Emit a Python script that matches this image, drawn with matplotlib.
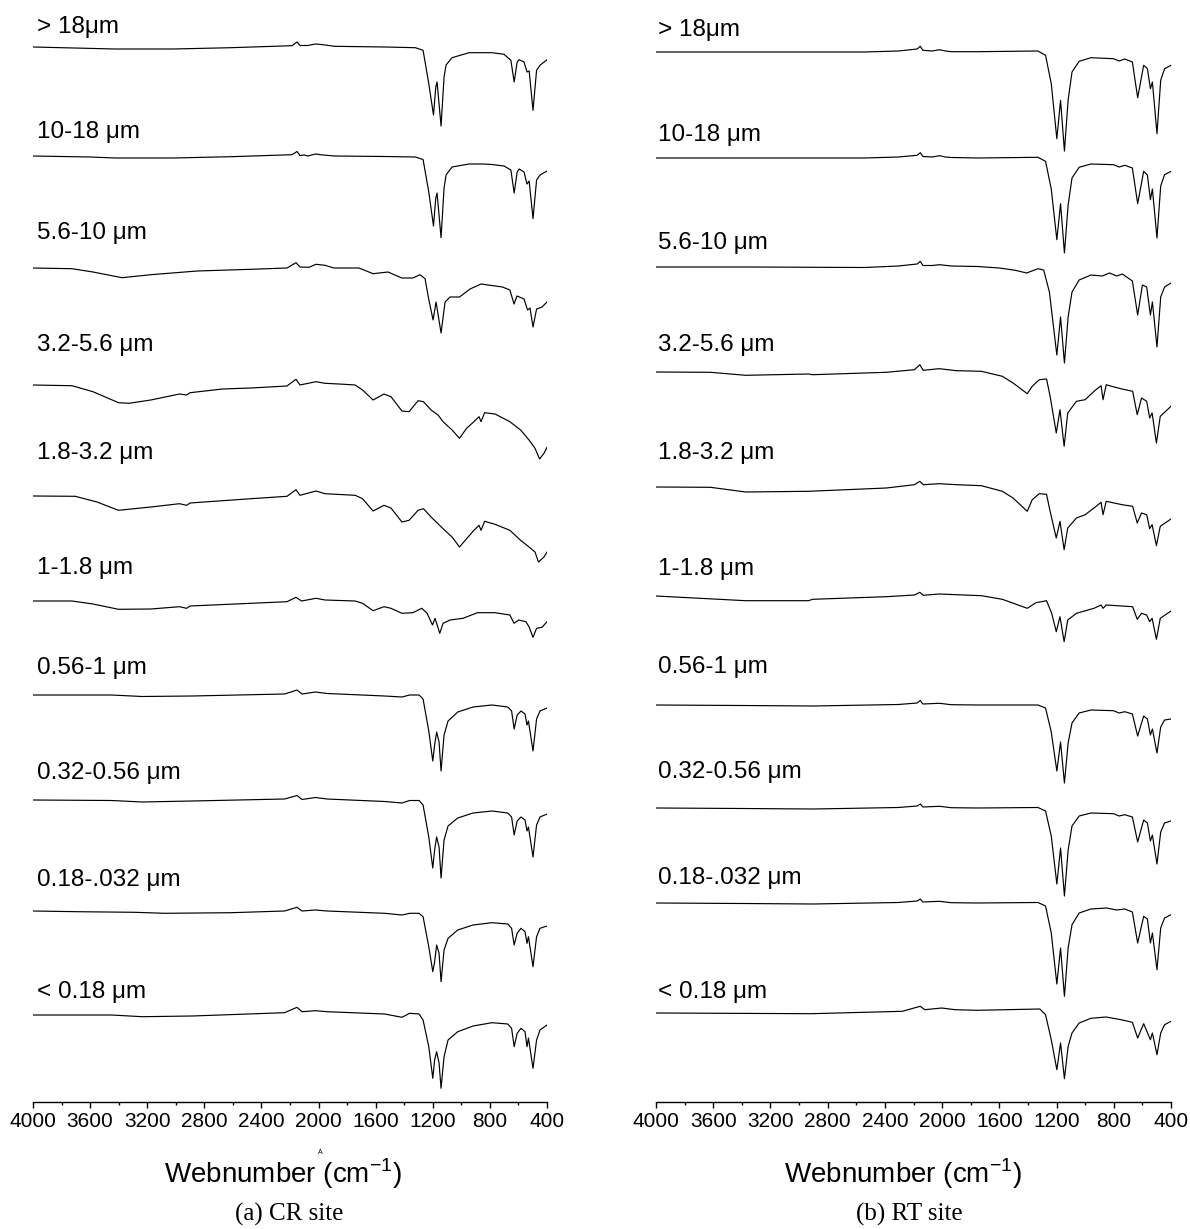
import matplotlib
matplotlib.use("Agg")
import matplotlib.pyplot as plt
from matplotlib.ticker import MultipleLocator

# size fractions, same for both sites
labels = ["> 18\u03bcm", "10-18 \u03bcm", "5.6-10 \u03bcm", "3.2-5.6 \u03bcm", "1.8-3.2 \u03bcm",
          "1-1.8 \u03bcm", "0.56-1 \u03bcm", "0.32-0.56 \u03bcm", "0.18-.032 \u03bcm", "< 0.18 \u03bcm"]

# ---- CR site spectra: (wavenumber cm-1, relative signal) ----
cr_gt18 = [(4000, 0), (3424, -2), (3019, -2), (2613, -0.7), (2186, 1.3), (2151, 5), (2130, 1.5),
           (2076, 1.5), (2022, 3), (1969, 2.3), (1888, 0.7), (1537, 0), (1322, -0.7), (1268, -3.3),
           (1228, -36.7), (1195, -68), (1179, -40), (1170, -35), (1142, -79), (1121, -30), (1107, -18),
           (1065, -10.7), (946, -5.7), (785, -5.7), (701, -7.3), (653, -13.3), (630, -35), (609, -15),
           (595, -12.7), (561, -15), (540, -25), (525, -24), (498, -63.3), (473, -23.3), (449, -18.3),
           (400, -12.7)]
cr_10_18 = [(4000, 0), (3600, -1), (3424, -2), (3019, -2), (2613, -0.7), (2186, 1.3), (2151, 4.5),
            (2130, 0.5), (2100, 1), (2076, 0), (2022, 2), (1969, 1), (1888, 0), (1537, -0.5), (1322, -1),
            (1268, -3.5), (1228, -36), (1195, -70), (1179, -42), (1170, -37), (1142, -81.7), (1121, -32),
            (1107, -19), (1065, -11), (946, -8), (850, -8), (785, -8.5), (701, -10), (653, -14), (630, -37),
            (609, -16), (595, -13), (561, -16), (540, -28), (525, -25), (498, -62.7), (473, -24), (449, -19),
            (400, -15)]
cr_56_10 = [(4000, 0), (3728, -0.7), (3580, -4), (3376, -9.7), (3175, -6.7), (2850, -3), (2473, -1.3),
            (2221, 0), (2158, 5.3), (2130, 1), (2067, 0.7), (2018, 3.7), (1955, 2.7), (1892, 0), (1717, 0),
            (1618, -5.7), (1514, -4), (1416, -10), (1339, -10), (1290, -6.7), (1254, -10.7), (1230, -30),
            (1198, -52), (1177, -34), (1142, -65), (1114, -34), (1079, -29), (1013, -29), (939, -21),
            (862, -16), (813, -17), (712, -19), (660, -22), (631, -36), (610, -28), (561, -31), (536, -42),
            (519, -40), (498, -59), (473, -41), (435, -39), (400, -34)]
cr_32_56 = [(4000, 0), (3728, -0.7), (3580, -6.7), (3401, -17.7), (3327, -18.3), (3175, -15),
            (2974, -9), (2924, -10), (2900, -7.7), (2673, -4), (2473, -3), (2221, -1), (2158, 5.7),
            (2130, 0), (2018, 3.3), (1955, 1.7), (1818, 0.7), (1744, 0), (1692, -5), (1618, -15),
            (1542, -9), (1493, -11.7), (1416, -26), (1366, -26.7), (1303, -15.7), (1265, -16.7),
            (1212, -25), (1163, -30), (1128, -36.7), (1065, -45), (1013, -53.3), (963, -43.3),
            (912, -36.7), (876, -31.7), (862, -36.7), (837, -27.7), (764, -29), (660, -36.7), (585, -45),
            (526, -55), (484, -63.3), (452, -74), (421, -68.3), (400, -62.3)]
cr_18_32 = [(4000, 0), (3704, -0.3), (3552, -6), (3401, -14.3), (3175, -11), (2974, -7.7), (2924, -9.3),
            (2900, -7), (2473, -2.7), (2221, -0.3), (2158, 6.3), (2130, 0.7), (2018, 5), (1955, 2.3),
            (1744, 0.7), (1692, -2.7), (1618, -15), (1542, -9.3), (1493, -12), (1416, -26), (1366, -24.3),
            (1303, -14.3), (1265, -12.7), (1212, -21), (1128, -32.7), (1065, -41), (1013, -51),
            (963, -42.7), (912, -34.3), (876, -29.3), (862, -34.3), (837, -25.3), (764, -28.3),
            (660, -34.3), (585, -44.3), (526, -51), (484, -56), (460, -66), (421, -61), (400, -56)]
cr_1_18 = [(4000, 0), (3728, 0), (3580, -3), (3401, -8.3), (3175, -8), (2974, -5.7), (2924, -7.3),
           (2900, -5), (2473, -2.3), (2221, -0.7), (2158, 3.7), (2119, 0), (2018, 2.7), (1955, 1),
           (1744, 0), (1692, -2.3), (1618, -9.7), (1542, -5.7), (1493, -7.3), (1416, -12.3), (1339, -11.7),
           (1277, -7.3), (1240, -12.3), (1202, -24), (1184, -17.3), (1151, -32.3), (1128, -22.3),
           (1079, -19), (988, -17.3), (887, -11.7), (764, -11.7), (660, -14), (631, -22.3), (598, -19),
           (548, -20.7), (526, -25.7), (498, -36.3), (473, -27.3), (435, -26.3), (400, -20.7)]
cr_056_1 = [(4000, 0), (3450, 0), (3236, -1.5), (2886, -1), (2238, 1), (2151, 5), (2116, 1), (2022, 3),
            (1941, 1.5), (1537, -1), (1416, -2), (1362, 0), (1296, 0), (1268, -4), (1228, -36),
            (1200, -66), (1187, -50), (1173, -37), (1156, -47), (1142, -76), (1121, -40), (1093, -26),
            (1025, -17), (918, -12), (785, -10), (675, -12), (648, -16), (630, -34), (609, -20),
            (582, -16), (554, -19), (540, -30), (530, -26), (498, -56), (473, -24), (449, -16), (400, -13)]
cr_032_056 = [(4000, 0), (3450, -0.5), (3236, -2), (2886, -1), (2238, 1), (2151, 4.5), (2116, 0.5),
              (2022, 2.5), (1941, 1), (1537, -1.5), (1416, -3), (1362, -0.5), (1296, -0.5), (1268, -5),
              (1228, -37), (1200, -68), (1187, -50), (1173, -37), (1156, -47), (1142, -78), (1121, -40),
              (1093, -26), (1025, -18), (918, -13), (785, -11), (675, -13), (648, -17), (630, -35),
              (609, -21), (582, -17), (554, -20), (540, -31), (530, -27), (498, -57), (473, -25),
              (449, -17), (400, -14)]
cr_018_032 = [(4000, 0), (3692, -0.7), (3288, -1.3), (3075, -2.3), (2613, -1.7), (2238, 0), (2151, 3.7),
              (2116, 0), (2022, 1), (1941, 0), (1537, -2.3), (1416, -4), (1362, -2.3), (1296, -2.3),
              (1268, -5.7), (1228, -35.7), (1200, -60.7), (1187, -50.7), (1173, -34), (1156, -42.3),
              (1142, -70.7), (1121, -39), (1093, -27.3), (1025, -19), (918, -14), (785, -11.7),
              (675, -13), (648, -17.3), (630, -34), (609, -22.3), (582, -17.3), (554, -20.7),
              (540, -32.3), (530, -25.7), (498, -55.7), (473, -25.7), (449, -17.3), (400, -15)]
cr_lt018 = [(4000, 0), (3450, 0), (3236, -1.7), (2886, -1), (2238, 2.3), (2151, 7.7), (2116, 3.3),
            (2022, 4.3), (1941, 3.3), (1537, 1), (1416, -2.3), (1362, 1.7), (1296, 1), (1268, -5),
            (1228, -31.7), (1200, -63.3), (1187, -45), (1173, -36.7), (1156, -48), (1142, -73.3),
            (1121, -41.7), (1093, -25), (1025, -16.7), (918, -11), (785, -7.7), (675, -9), (648, -13.3),
            (630, -31.7), (609, -18.3), (582, -13.3), (554, -16.7), (540, -31.7), (530, -23),
            (498, -53.3), (473, -25), (449, -15), (400, -10)]

# ---- RT site spectra ----
rt_gt18 = [(4000, 0), (3337, 0), (2543, 0), (2306, 1), (2174, 3), (2153, 5.7), (2134, 1.7), (2069, 1),
           (2018, 2.3), (1977, 1), (1937, 0.3), (1753, 0.3), (1330, 1), (1277, -3.3), (1237, -31.7),
           (1198, -86.7), (1172, -48.3), (1145, -99), (1119, -48), (1092, -20), (1042, -9.3), (960, -5.7),
           (802, -6.7), (763, -9), (723, -7), (670, -10), (633, -45.7), (591, -13.3), (565, -16.7),
           (544, -36.7), (530, -30), (498, -81.7), (472, -28.3), (445, -16.7), (400, -13.3)]
rt_10_18 = [(4000, 0), (3337, 0), (2543, 0), (2306, 1), (2174, 2.7), (2153, 5.3), (2134, 1.5), (2069, 1),
            (2018, 2.3), (1977, 1), (1937, 0.5), (1753, 0), (1330, 0.7), (1277, -3.3), (1237, -31),
            (1198, -81.7), (1172, -45.7), (1145, -95), (1119, -47), (1092, -20), (1042, -9.3), (960, -6),
            (802, -6.7), (763, -9), (723, -7.3), (670, -10), (633, -45.7), (591, -13.3), (565, -17),
            (544, -41.7), (530, -31), (498, -80), (472, -28), (445, -16.7), (400, -13.3)]
rt_56_10 = [(4000, 0), (3337, 0), (2543, -0.5), (2306, 1), (2174, 3), (2153, 5.7), (2134, 1.5),
            (2069, 1.5), (2018, 2.3), (1937, 1), (1753, 0.5), (1600, -1), (1488, -3.3), (1409, -6),
            (1330, -1.7), (1290, -3), (1250, -25), (1198, -88), (1172, -50), (1145, -96), (1119, -50),
            (1092, -25), (1042, -13), (960, -8), (880, -9), (830, -6), (780, -9), (740, -7), (700, -11),
            (670, -14), (633, -48), (600, -18), (570, -20), (544, -48), (530, -35), (498, -80),
            (472, -30), (445, -20), (400, -16)]
rt_32_56 = [(4000, 0), (3620, -0.3), (3373, -3.3), (2933, -2), (2906, -2.7), (2390, -0.3), (2193, 2.3),
            (2156, 7.3), (2132, 1.7), (2021, 3.3), (1898, 1.3), (1725, 0.7), (1579, -4.3), (1504, -11),
            (1405, -21.7), (1370, -14.3), (1321, -7.7), (1270, -7), (1245, -24.3), (1202, -61),
            (1176, -37.7), (1147, -74.3), (1122, -41), (1061, -29.3), (1000, -27.7), (938, -19.3),
            (889, -13.7), (875, -27.7), (853, -12.7), (815, -14.3), (742, -17), (668, -19.3), (636, -42.7),
            (606, -26), (570, -29.3), (549, -46), (532, -41), (502, -71), (475, -44.3), (400, -34.3)]
rt_18_32 = [(4000, 0), (3620, -0.3), (3373, -5), (2933, -4.3), (2390, -1), (2193, 2.3), (2156, 5.7),
            (2132, 2.3), (2021, 3.3), (1898, 2.3), (1725, 1.3), (1579, -4.3), (1504, -11), (1405, -24.3),
            (1370, -12.7), (1321, -6.7), (1270, -7.3), (1245, -24.3), (1202, -51), (1176, -34.3),
            (1147, -62.7), (1122, -41), (1061, -31), (1000, -27.7), (938, -21), (889, -15.3),
            (875, -27.7), (853, -14.3), (742, -17.7), (668, -19.3), (636, -36), (606, -26), (570, -27.7),
            (549, -41.7), (532, -37.7), (502, -58.7), (475, -39.3), (400, -32)]
rt_1_18 = [(4000, 0), (3373, -4.7), (2933, -4.7), (2906, -3.3), (2390, -0.7), (2193, 1), (2156, 3.7),
           (2132, 0.7), (2021, 2), (1725, 0.3), (1579, -3.3), (1405, -12.3), (1344, -6.7), (1270, -4.7),
           (1234, -17.3), (1202, -35.7), (1176, -20.7), (1147, -45.7), (1122, -24), (1061, -17.3),
           (938, -12.3), (889, -9), (875, -12.3), (853, -9), (668, -10.7), (636, -23.3), (606, -17.3),
           (570, -19), (549, -25.7), (532, -22.3), (502, -43.3), (475, -22.3), (400, -15)]
rt_056_1 = [(4000, 0), (3400, -0.5), (2900, -1), (2306, 0.5), (2174, 2), (2153, 4.5), (2134, 1),
            (2018, 1.7), (1937, 0.3), (1753, 0), (1330, 0), (1277, -3), (1237, -27), (1198, -66),
            (1172, -37), (1145, -78), (1119, -38), (1092, -18), (1042, -8), (960, -5), (802, -5.7),
            (763, -8), (723, -6.7), (670, -9), (633, -31), (591, -11), (565, -14), (544, -30),
            (530, -24), (498, -48), (472, -22), (445, -15), (400, -14)]
rt_032_056 = [(4000, 0), (3400, -0.5), (2900, -1), (2306, 0.5), (2174, 2), (2153, 4), (2134, 1),
              (2018, 1.7), (1937, 0.3), (1753, 0), (1330, 0.5), (1277, -3), (1237, -28), (1198, -76),
              (1172, -40), (1145, -88), (1119, -42), (1092, -18), (1042, -8), (960, -5), (802, -5.7),
              (763, -8), (723, -6.7), (670, -9), (633, -34), (591, -12), (565, -15), (544, -33),
              (530, -27), (498, -56), (472, -24), (445, -15), (400, -13)]
rt_018_032 = [(4000, 0), (3400, -0.5), (2900, -1), (2306, 0.5), (2174, 2), (2153, 4), (2134, 1),
              (2018, 1.7), (1937, 0.3), (1753, 0), (1330, 0.5), (1277, -3), (1237, -30), (1198, -81),
              (1172, -45), (1145, -93.3), (1119, -45), (1092, -21.7), (1042, -10), (960, -6), (850, -5),
              (780, -7), (723, -6), (670, -9), (633, -40), (591, -13.3), (565, -16), (544, -40),
              (530, -30), (498, -66.7), (472, -25), (445, -15), (400, -11.7)]
rt_lt018 = [(4000, 0), (2913, -0.7), (2279, 1.7), (2153, 6.7), (2121, 3.3), (2002, 5), (1910, 3.3),
            (1753, 2.7), (1317, 4), (1277, -1.7), (1237, -26.7), (1198, -56.7), (1172, -30),
            (1145, -65.7), (1119, -33.3), (1092, -20), (1042, -10), (960, -5.3), (855, -4), (749, -6.7),
            (670, -9.3), (633, -25), (591, -10.7), (544, -26.7), (530, -20), (498, -41.7), (472, -20),
            (445, -11.7), (400, -8.3)]

cr_spectra = [cr_gt18, cr_10_18, cr_56_10, cr_32_56, cr_18_32, cr_1_18, cr_056_1, cr_032_056,
              cr_018_032, cr_lt018]
rt_spectra = [rt_gt18, rt_10_18, rt_56_10, rt_32_56, rt_18_32, rt_1_18, rt_056_1, rt_032_056,
              rt_018_032, rt_lt018]

# vertical stacking (pixels from top of figure)
cr_offsets = [47, 156, 268, 385, 496, 601, 695, 800, 911, 1015]
cr_label_y = [27, 132, 233, 345, 453, 568, 668, 773, 880, 992]
rt_offsets = [52, 158, 267, 372, 487, 596, 705, 808, 903, 1013]
rt_label_y = [30, 135, 243, 345, 453, 569, 667, 772, 878, 992]

W, H = 1190, 1229
fig = plt.figure(figsize=(W / 100, H / 100), dpi=100)

sans = ["Liberation Sans", "DejaVu Sans"]
serif = ["Liberation Serif", "DejaVu Serif"]

axis_y = 1102


def panel(x0, x1, spectra, offsets, label_y, label_x):
    ax = fig.add_axes([x0 / W, (H - axis_y) / H, (x1 - x0) / W, axis_y / H])
    for spec, off in zip(spectra, offsets):
        wn = [p[0] for p in spec]
        val = [p[1] - off for p in spec]
        ax.plot(wn, val, color="black", lw=0.85)
    for lab, ly in zip(labels, label_y):
        ax.text(label_x, -ly, lab, fontsize=17.5, family=sans, ha="left", va="center")
    ax.set_xlim(4000, 400)
    ax.set_ylim(-axis_y, 0)
    for s in ["left", "right", "top"]:
        ax.spines[s].set_visible(False)
    ax.spines["bottom"].set_linewidth(1.0)
    ax.set_yticks([])
    ax.set_xticks(range(4000, 399, -400))
    ax.xaxis.set_minor_locator(MultipleLocator(200))
    ax.tick_params(axis="x", which="major", direction="out", length=4, width=1.0, pad=3,
                   labelsize=15)
    ax.tick_params(axis="x", which="minor", direction="out", length=2.5, width=1.0)
    for t in ax.get_xticklabels():
        t.set_family(sans)
    ax.patch.set_alpha(0)
    return ax


panel(33, 547, cr_spectra, cr_offsets, cr_label_y, 3970)
panel(656, 1171, rt_spectra, rt_offsets, rt_label_y, 3986)

# axis titles and captions
for xc, cap in [(283, "(a) CR site"), (903, "(b) RT site")]:
    fig.text(xc / W, 1 - 1174 / H, "Webnumber (cm$^{\\mathregular{-1}}$)", fontsize=20, family=sans,
             ha="center", va="center")
    fig.text((xc + 6) / W, 1 - 1214 / H, cap, fontsize=18, family=serif, ha="center", va="center")
fig.text(320 / W, 1 - 1153 / H, "A", fontsize=5, family=sans, ha="center", va="center")

fig.savefig("out.png", dpi=100)
